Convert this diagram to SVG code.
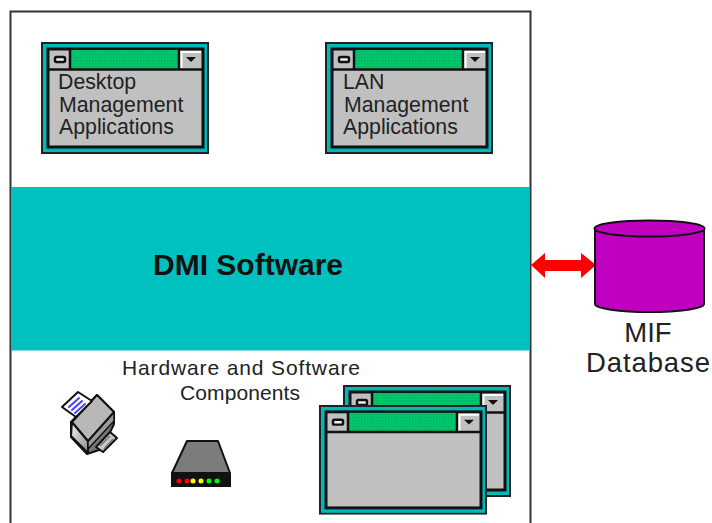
<svg xmlns="http://www.w3.org/2000/svg" width="712" height="523" viewBox="0 0 712 523">
<style>
text{font-family:"Liberation Sans",Arial,sans-serif;fill:#222}
.l{font-size:21.300px}
.s{font-size:21px}
.d{stroke:#111;stroke-width:2;stroke-linejoin:round}
.db{font-size:27.500px}
.led{stroke:none}
</style>
<defs>
<pattern id="dither" width="3" height="3" patternUnits="userSpaceOnUse"><rect width="3" height="3" fill="#00c868"/><rect width="1.500" height="1.500" fill="#00b070"/></pattern>
<linearGradient id="face" x1="0" y1="0" x2="1" y2="1"><stop offset="0" stop-color="#f0f0f0"/><stop offset="1" stop-color="#8c8c8c"/></linearGradient>
<symbol id="win" width="168" height="112" viewBox="0 0 168 112">
<rect x="1" y="1" width="166" height="110" fill="#00b8b8" stroke="#222" stroke-width="2"/>
<rect x="7" y="7" width="155" height="98" fill="#c0c0c0" stroke="#111" stroke-width="3"/>
<rect x="29" y="8" width="109" height="19" fill="url(#dither)"/>
<path d="M7 27.500H162M29 7V27M138 7V27" fill="none" stroke="#111" stroke-width="2.500"/>
<rect x="14" y="15" width="10" height="5" rx="1.500" fill="#eee" stroke="#111" stroke-width="2.500"/>
<path d="M139.500 9H160V11H141.500V26H139.500Z" fill="#fff"/>
<path d="M145 15H155L150 20Z" fill="#111"/>
</symbol>
</defs>

<g id="frame">
<path d="M10.500 523V11.500H530.500V523" fill="#fff" stroke="#333" stroke-width="2"/>
</g>

<g id="dmi-software">
<rect x="11" y="187" width="519" height="163.500" fill="#00c0c0"/>
<text x="248" y="275" font-size="30" font-weight="700" text-anchor="middle" style="fill:#111">DMI Software</text>
</g>

<g id="desktop-app">
<use href="#win" x="41" y="42"/>
<text class="l" x="58" y="89">Desktop</text>
<text class="l" x="59" y="112">Management</text>
<text class="l" x="59" y="134">Applications</text>
</g>

<g id="lan-app">
<use href="#win" x="325" y="42"/>
<text class="l" x="343" y="89">LAN</text>
<text class="l" x="344" y="112">Management</text>
<text class="l" x="343" y="134">Applications</text>
</g>

<g id="components-label">
<text class="s" x="122" y="375" textLength="238" lengthAdjust="spacing">Hardware and Software</text>
<text class="s" x="180" y="400" textLength="120" lengthAdjust="spacing">Components</text>
</g>

<g id="printer">
<path class="d" d="M71 422V437L87 454L102 449L114 424V412L97 395Z" fill="#777"/>
<path class="d" d="M96 447L103 452L117 438L110 432Z" fill="#c8c8c8"/>
<path d="M100 446L110 436M104 449L113 439" stroke="#777" stroke-width="1.500"/>
<path d="M72 422L88 441V453L71 436Z" fill="url(#face)" stroke="#111" stroke-width="2" stroke-linejoin="round"/>
<path d="M88 441L114 412V421L88 449Z" fill="#9a9a9a" stroke="#111" stroke-width="1.500" stroke-linejoin="round"/>
<path class="d" d="M72 422L97 395L114 412L88 441Z" fill="#b8b8b8"/>
<path class="d" d="M62 407L78 392L92 401L76 417Z" fill="#fff"/>
<path d="M69 407L79 398M72 410L82 401M75 413L85 404" stroke="#4444ff" stroke-width="2" stroke-linecap="round"/>
</g>

<g id="hub">
<path class="d" d="M172 473L187 441H218L230 473Z" fill="#7c7c7c"/>
<rect x="171" y="473" width="60" height="14" fill="#111"/>
<circle class="led" cx="179" cy="481" r="2.500" fill="#f00"/>
<circle class="led" cx="187" cy="481" r="2.500" fill="#f00"/>
<circle class="led" cx="193" cy="481" r="2.500" fill="#ff0"/>
<circle class="led" cx="201" cy="481" r="2.500" fill="#ff0"/>
<circle class="led" cx="209" cy="481" r="2.500" fill="#0f0"/>
<circle class="led" cx="217" cy="481" r="2.500" fill="#0f0"/>
</g>

<g id="component-windows">
<use href="#win" x="343" y="385"/>
<use href="#win" transform="translate(319 405) scale(1 .98)"/>
</g>

<g id="connectors">
<path d="M531 265L545 253V260H581V253L596 265L581 278V271H545V278Z" fill="#f00"/>
</g>

<g id="mif-database">
<path d="M595 228V304A54.500 8 0 0 0 704 304V228Z" fill="#c000c0" stroke="#111" stroke-width="2" stroke-linejoin="round"/>
<ellipse cx="649.500" cy="228.500" rx="55" ry="8" fill="#c000c0" stroke="#111" stroke-width="2"/>
<text class="db" x="648" y="342" text-anchor="middle">MIF</text>
<text class="db" x="586" y="372" textLength="124" lengthAdjust="spacing">Database</text>
</g>
</svg>
